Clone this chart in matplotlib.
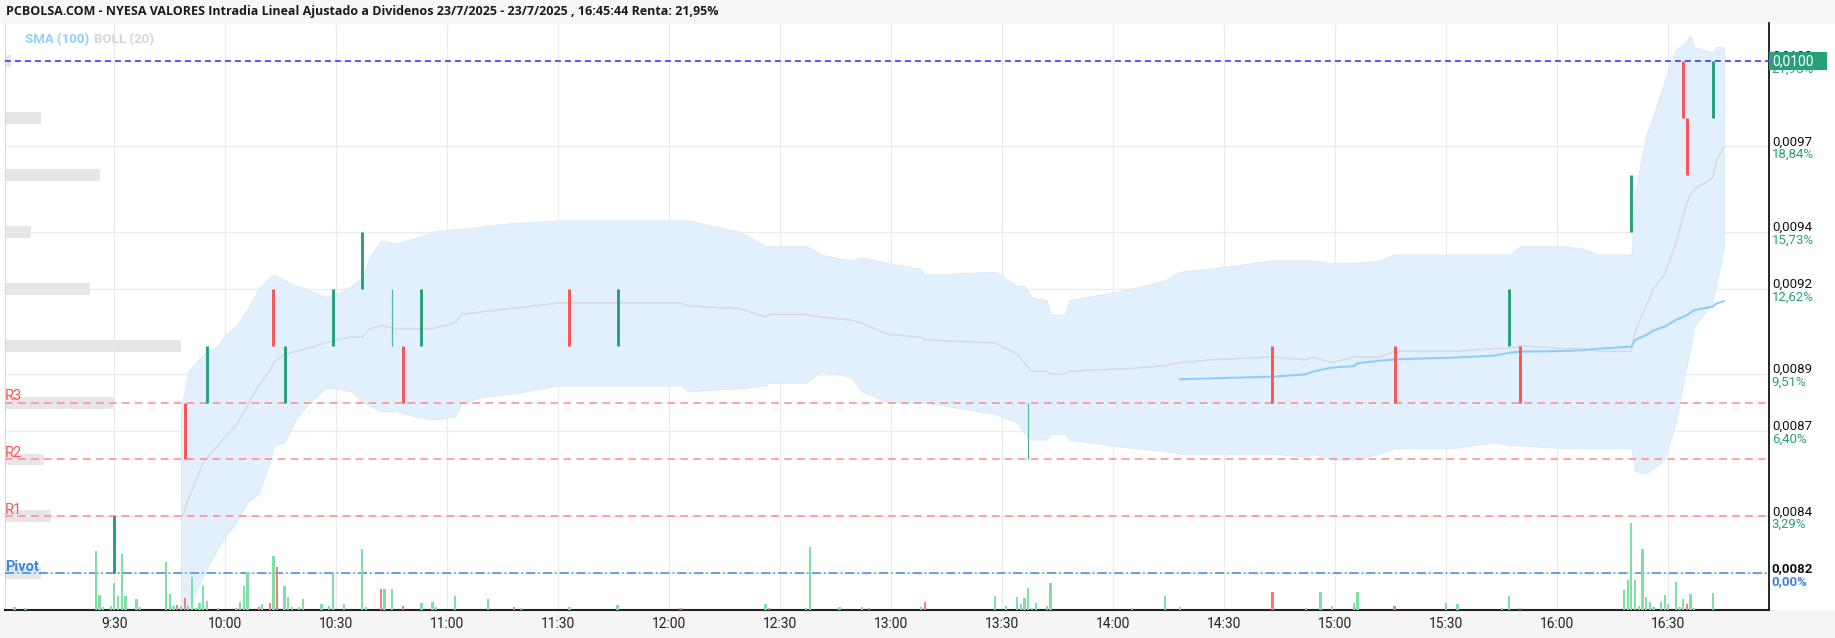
import matplotlib
matplotlib.use('Agg')
import matplotlib.pyplot as plt
from matplotlib.patches import Rectangle

## Price ticks on the right axis and their % change vs the pivot
tick_prices = [0.0082, 0.0084, 0.0087, 0.0089, 0.0092, 0.0094, 0.0097, 0.0100]
tick_labels = ['0,0082', '0,0084', '0,0087', '0,0089', '0,0092', '0,0094', '0,0097', '0,0100']
pct_labels = ['0,00%', '3,29%', '6,40%', '9,51%', '12,62%', '15,73%', '18,84%', '21,95%']
xtick_labels = ['9:30', '10:00', '10:30', '11:00', '11:30', '12:00', '12:30', '13:00',
                '13:30', '14:00', '14:30', '15:00', '15:30', '16:00', '16:30']

## Pivot levels
pivot = 0.0082
levels = {'R1': 0.0084, 'R2': 0.0086, 'R3': 0.0088}
last_price = 0.0100

## Price steps (time, open, close)
step_times = ['9:30', '9:49', '9:55', '10:13', '10:16', '10:29', '10:37', '10:45', '10:48', '10:53',
              '11:33', '11:46', '13:37', '14:43', '15:16', '15:47', '15:50', '16:20', '16:34', '16:35', '16:42']
step_open = [0.0082, 0.0088, 0.0088, 0.0092, 0.0088, 0.0090, 0.0092, 0.0090, 0.0090, 0.0090,
             0.0092, 0.0090, 0.0086, 0.0090, 0.0090, 0.0090, 0.0090, 0.0094, 0.0100, 0.0098, 0.0098]
step_close = [0.0084, 0.0086, 0.0090, 0.0090, 0.0090, 0.0092, 0.0094, 0.0092, 0.0088, 0.0092,
              0.0090, 0.0092, 0.0088, 0.0088, 0.0088, 0.0092, 0.0088, 0.0096, 0.0098, 0.0096, 0.0100]
thin_steps = ['10:45', '13:37']

## Bollinger (20)
band_times = ['9:48', '9:49', '9:50', '9:54', '9:58', '10:00', '10:03', '10:06', '10:09', '10:12',
              '10:13', '10:16', '10:19', '10:22', '10:27', '10:30', '10:34', '10:37', '10:39', '10:42',
              '10:46', '10:52', '10:56', '11:02', '11:04', '11:10', '11:17', '11:30', '12:03', '12:05',
              '12:19', '12:26', '12:27', '12:37', '12:41', '12:49', '12:52', '12:59', '13:08', '13:09',
              '13:28', '13:34', '13:36', '13:38', '13:42', '13:43', '13:47', '13:48', '14:05', '14:14',
              '14:18', '14:26', '14:43', '14:52', '14:54', '14:59', '15:05', '15:12', '15:16', '15:32',
              '15:43', '15:47', '15:50', '16:01', '16:07', '16:11', '16:20', '16:21', '16:24', '16:26',
              '16:29', '16:32', '16:35', '16:36', '16:37', '16:42', '16:43', '16:45']
band_upper = [0.00879, 0.00884, 0.00891, 0.00897, 0.00900, 0.00904, 0.00907, 0.00913, 0.00920, 0.00924,
              0.00925, 0.00923, 0.00921, 0.00920, 0.00917, 0.00918, 0.00921, 0.00924, 0.00931, 0.00937,
              0.00936, 0.00938, 0.00940, 0.00941, 0.00941, 0.00942, 0.00943, 0.00944, 0.00944, 0.00944,
              0.00940, 0.00935, 0.00935, 0.00935, 0.00932, 0.00930, 0.00931, 0.00929, 0.00927, 0.00925,
              0.00926, 0.00921, 0.00921, 0.00917, 0.00916, 0.00911, 0.00911, 0.00916, 0.00920, 0.00923,
              0.00926, 0.00927, 0.00930, 0.00930, 0.00930, 0.00929, 0.00929, 0.00930, 0.00932, 0.00932,
              0.00932, 0.00932, 0.00935, 0.00935, 0.00934, 0.00932, 0.00932, 0.00954, 0.00974, 0.00981,
              0.00993, 0.01004, 0.01007, 0.01009, 0.01005, 0.01003, 0.01005, 0.01005]
band_mid = [0.00839, 0.00842, 0.00846, 0.00859, 0.00865, 0.00868, 0.00872, 0.00879, 0.00886, 0.00891,
            0.00894, 0.00897, 0.00898, 0.00899, 0.00901, 0.00902, 0.00903, 0.00903, 0.00906, 0.00907,
            0.00906, 0.00906, 0.00906, 0.00908, 0.00911, 0.00912, 0.00913, 0.00915, 0.00915, 0.00914,
            0.00913, 0.00910, 0.00911, 0.00911, 0.00910, 0.00909, 0.00908, 0.00904, 0.00903, 0.00902,
            0.00901, 0.00897, 0.00894, 0.00891, 0.00891, 0.00890, 0.00890, 0.00891, 0.00892, 0.00893,
            0.00894, 0.00895, 0.00896, 0.00895, 0.00896, 0.00894, 0.00896, 0.00896, 0.00898, 0.00898,
            0.00899, 0.00899, 0.00900, 0.00899, 0.00899, 0.00898, 0.00898, 0.00905, 0.00914, 0.00920,
            0.00925, 0.00936, 0.00950, 0.00953, 0.00955, 0.00959, 0.00965, 0.00970]
band_lower = [0.00806, 0.00807, 0.00808, 0.00819, 0.00829, 0.00833, 0.00838, 0.00845, 0.00848, 0.00859,
              0.00865, 0.00866, 0.00874, 0.00879, 0.00885, 0.00885, 0.00884, 0.00880, 0.00879, 0.00877,
              0.00877, 0.00875, 0.00874, 0.00875, 0.00880, 0.00882, 0.00883, 0.00886, 0.00886, 0.00884,
              0.00885, 0.00886, 0.00887, 0.00887, 0.00891, 0.00889, 0.00884, 0.00880, 0.00880, 0.00880,
              0.00876, 0.00873, 0.00869, 0.00867, 0.00867, 0.00869, 0.00869, 0.00867, 0.00864, 0.00863,
              0.00862, 0.00862, 0.00862, 0.00861, 0.00862, 0.00860, 0.00860, 0.00862, 0.00864, 0.00864,
              0.00866, 0.00865, 0.00865, 0.00864, 0.00864, 0.00864, 0.00864, 0.00856, 0.00855, 0.00857,
              0.00860, 0.00873, 0.00893, 0.00899, 0.00907, 0.00915, 0.00922, 0.00934]

## SMA (100)
sma_times = ['14:18', '14:26', '14:43', '14:52', '14:54', '14:59', '15:05', '15:06', '15:12', '15:16',
             '15:32', '15:43', '15:47', '15:50', '16:01', '16:07', '16:11', '16:20', '16:21', '16:24',
             '16:26', '16:29', '16:32', '16:35', '16:37', '16:42', '16:43', '16:45']
sma_vals = [0.008882, 0.008885, 0.008891, 0.008899, 0.008909, 0.008923, 0.008928, 0.008938, 0.008947, 0.008952,
            0.008958, 0.008965, 0.008975, 0.008979, 0.008981, 0.008984, 0.008989, 0.008997, 0.009020, 0.009037,
            0.009054, 0.009067, 0.009090, 0.009107, 0.009125, 0.009137, 0.009148, 0.009157]

## Volume per minute (u = up, d = down)
vol_times = ['9:03', '9:06', '9:25', '9:26', '9:27', '9:29', '9:30', '9:31', '9:32', '9:33',
             '9:36', '9:37', '9:44', '9:45', '9:46', '9:47', '9:48', '9:49', '9:50', '9:51',
             '9:52', '9:53', '9:54', '9:55', '9:58', '10:03', '10:04', '10:05', '10:06', '10:09',
             '10:10', '10:12', '10:13', '10:14', '10:16', '10:17', '10:18', '10:20', '10:21', '10:26',
             '10:28', '10:29', '10:32', '10:37', '10:38', '10:42', '10:43', '10:45', '10:48', '10:53',
             '10:56', '10:57', '11:02', '11:11', '11:18', '11:20', '11:33', '11:46', '12:03', '12:26',
             '12:27', '12:37', '12:38', '12:46', '12:52', '12:54', '13:08', '13:09', '13:28', '13:31',
             '13:34', '13:35', '13:36', '13:37', '13:38', '13:39', '13:42', '13:43', '14:05', '14:14',
             '14:18', '14:43', '14:52', '14:56', '14:59', '15:05', '15:06', '15:16', '15:30', '15:33',
             '15:45', '15:47', '15:50', '16:18', '16:19', '16:20', '16:21', '16:22', '16:23', '16:24',
             '16:25', '16:26', '16:28', '16:29', '16:30', '16:32', '16:33', '16:34', '16:35', '16:36',
             '16:37', '16:42']
vol_size = [3, 2, 59, 15, 3, 4, 27, 14, 56, 14,
            11, 3, 48, 16, 4, 5, 4, 12, 4, 33,
            2, 7, 24, 9, 2, 2, 8, 24, 38, 3,
            6, 7, 54, 43, 24, 13, 3, 3, 11, 6,
            4, 37, 6, 61, 3, 21, 21, 21, 4, 7,
            8, 3, 14, 11, 3, 2, 3, 5, 2, 6,
            2, 2, 63, 3, 3, 2, 3, 8, 14, 4,
            13, 6, 12, 22, 2, 7, 4, 27, 2, 14,
            3, 18, 2, 18, 4, 7, 18, 4, 7, 6,
            2, 14, 2, 20, 30, 87, 30, 4, 61, 13,
            8, 3, 8, 15, 6, 28, 3, 11, 6, 16,
            2, 17]
vol_side = ['u', 'u', 'u', 'u', 'u', 'u', 'u', 'u', 'u', 'u',
            'u', 'u', 'u', 'u', 'u', 'd', 'u', 'd', 'u', 'u',
            'u', 'u', 'u', 'u', 'u', 'u', 'u', 'u', 'u', 'd',
            'u', 'd', 'u', 'd', 'u', 'u', 'u', 'u', 'u', 'u',
            'u', 'u', 'u', 'u', 'u', 'd', 'u', 'u', 'd', 'u',
            'u', 'u', 'u', 'u', 'd', 'u', 'u', 'u', 'd', 'u',
            'd', 'u', 'u', 'u', 'u', 'd', 'u', 'd', 'u', 'u',
            'u', 'u', 'u', 'u', 'u', 'u', 'u', 'u', 'u', 'u',
            'u', 'd', 'u', 'u', 'u', 'u', 'u', 'd', 'u', 'u',
            'u', 'u', 'd', 'u', 'u', 'u', 'u', 'u', 'u', 'u',
            'u', 'u', 'u', 'u', 'u', 'u', 'u', 'u', 'd', 'u',
            'u', 'u']

## Volume at price profile
profile_prices = [0.0100, 0.0098, 0.0096, 0.0094, 0.0092, 0.0090, 0.0088, 0.0086, 0.0084, 0.0082]
profile_vol = [6, 37, 96, 27, 86, 177, 110, 40, 47, 37]

title = ('PCBOLSA.COM - NYESA VALORES Intradia Lineal Ajustado a Dividenos '
         '23/7/2025 - 23/7/2025 , 16:45:44 Renta: 21,95%')


def tmin(s):
    h, m = s.split(':')
    return int(h) * 60 + int(m)


GREEN = '#26a07a'
RED = '#ff5252'

plt.rcParams['font.family'] = ['Roboto', 'DejaVu Sans']

## Figure and axes (pixel layout of the original 1835x638 image)
W, H = 1835, 638
fig = plt.figure(figsize=(W / 100, H / 100), dpi=100)
fig.patches.append(Rectangle((0, 1 - 23 / H), 1, 23 / H, transform=fig.transFigure,
                             color='#f7f7f7', zorder=0))
fig.patches.append(Rectangle((0, 0), 1, 28 / H, transform=fig.transFigure,
                             color='#f5f5f5', zorder=0))
ax_l, ax_r, ax_b, ax_t = 4.5, 1769, 28, 615
ax = fig.add_axes([ax_l / W, ax_b / H, (ax_r - ax_l) / W, (ax_t - ax_b) / H])
axp = ax.twiny()
axv = ax.twinx()
axp.set_zorder(0)
ax.set_zorder(1)
axv.set_zorder(2)
ax.patch.set_visible(False)
axv.patch.set_visible(False)

ax.set_xlim(540.3, 1017.2)
ax.set_ylim(0.008071, 0.010134)

## Volume profile (left, grey)
axp.barh(profile_prices, profile_vol, height=0.000042, color='#e6e6e6', linewidth=0)
axp.set_xlim(0, ax_r - ax_l)
axp.axis('off')

## Grid
ax.set_xticks([tmin(s) for s in xtick_labels])
ax.set_xticklabels(xtick_labels)
ax.set_yticks(tick_prices)
ax.tick_params(axis='y', length=0, labelleft=False, labelright=False)
ax.tick_params(axis='x', length=0, pad=5, labelsize=10, labelcolor='#222222')
ax.grid(color='#ebebeb', linewidth=0.9)
ax.set_axisbelow(True)
ax.spines['top'].set_visible(False)
ax.spines['left'].set_color('#d8d8d8')
ax.spines['right'].set_color('black')
ax.spines['right'].set_linewidth(1.2)
ax.spines['bottom'].set_color('#222222')
ax.spines['bottom'].set_linewidth(1.5)

## Bollinger band and SMA
bt = [tmin(s) for s in band_times]
ax.fill_between(bt, band_lower, band_upper, color='#e1f0fc', linewidth=0.6, edgecolor='#d5eafb', zorder=1)
ax.plot(bt, band_mid, color='#dadada', linewidth=1.1, zorder=2)
ax.plot([tmin(s) for s in sma_times], sma_vals, color='#8fcdf6', linewidth=1.5, zorder=2)

## Pivot lines
for name, lv in levels.items():
    ax.axhline(lv, color='#ff8a8a', linewidth=1.1, linestyle=(0, (5, 3.5)), zorder=3)
    ax.annotate(name, xy=(0, lv), xycoords=('axes fraction', 'data'), xytext=(0.5, 1.5),
                textcoords='offset points', va='baseline', ha='left', color=RED, fontsize=10.5)
ax.axhline(pivot, color='#3d8be0', linewidth=1.1, linestyle=(0, (6, 2, 1, 2)), zorder=3)
ax.annotate('Pivot', xy=(0, pivot), xycoords=('axes fraction', 'data'), xytext=(0.5, 1.5),
            textcoords='offset points', va='baseline', ha='left', color='#3a86e0',
            fontsize=10.5, fontweight='bold')
ax.axhline(last_price, color='#3a3aff', linewidth=1.2, linestyle=(0, (3.5, 2.5)), zorder=3)

## Price steps
for t, o, c in zip(step_times, step_open, step_close):
    col = GREEN if c > o else RED
    lw = 2.1
    if t in thin_steps:
        lw = 0.9
        col = '#4fb98f'
    ax.plot([tmin(t), tmin(t)], [o, c], color=col, linewidth=lw, solid_capstyle='butt', zorder=4)

## Volume bars
vt = [tmin(s) for s in vol_times]
vcol = ['#7fdfa5' if s == 'u' else '#ff7878' for s in vol_side]
axv.bar(vt, vol_size, width=0.6, color=vcol, linewidth=0)
axv.set_ylim(0, ax_t - ax_b)
axv.axis('off')

## Right-hand price labels
for p, lab, pct in zip(tick_prices, tick_labels, pct_labels):
    bold = 'bold' if p == pivot else 'normal'
    pcol = '#3a86e0' if p == pivot else GREEN
    ax.annotate(lab, xy=(1, p), xycoords=('axes fraction', 'data'), xytext=(2, 0.8),
                textcoords='offset points', va='baseline', ha='left', fontsize=9.5,
                color='#111111', fontweight=bold, annotation_clip=False)
    ax.annotate(pct, xy=(1, p), xycoords=('axes fraction', 'data'), xytext=(2, -1.2),
                textcoords='offset points', va='top', ha='left', fontsize=9.5,
                color=pcol, fontweight=bold, annotation_clip=False)

## Last price box
box_w = 58 / (ax_r - ax_l)
box_h = 18 / (ax_t - ax_b) * (0.010134 - 0.008071)
ax.add_patch(Rectangle((1.0, last_price - box_h / 2), box_w, box_h, transform=ax.get_yaxis_transform(),
                       facecolor=GREEN, edgecolor='none', clip_on=False, zorder=10))
ax.annotate('0,0100', xy=(1, last_price), xycoords=('axes fraction', 'data'), xytext=(2.5, 0),
            textcoords='offset points', va='center', ha='left', fontsize=10, color='white',
            annotation_clip=False, zorder=11)

## Title and legend
fig.text(6 / W, 1 - 12 / H, title, fontsize=9, family=['Open Sans', 'DejaVu Sans'],
         fontweight='bold', va='center', ha='left', color='#1a1a1a')
ax.annotate('SMA (100)', xy=(0, 1), xycoords='axes fraction', xytext=(15, -12),
            textcoords='offset points', va='center', ha='left', fontsize=9.5,
            fontweight='bold', color='#92cff8')
ax.annotate('BOLL (20)', xy=(0, 1), xycoords='axes fraction', xytext=(64.5, -12),
            textcoords='offset points', va='center', ha='left', fontsize=9.5,
            fontweight='bold', color='#d6d6d6')

fig.savefig('out.png', dpi=100)
